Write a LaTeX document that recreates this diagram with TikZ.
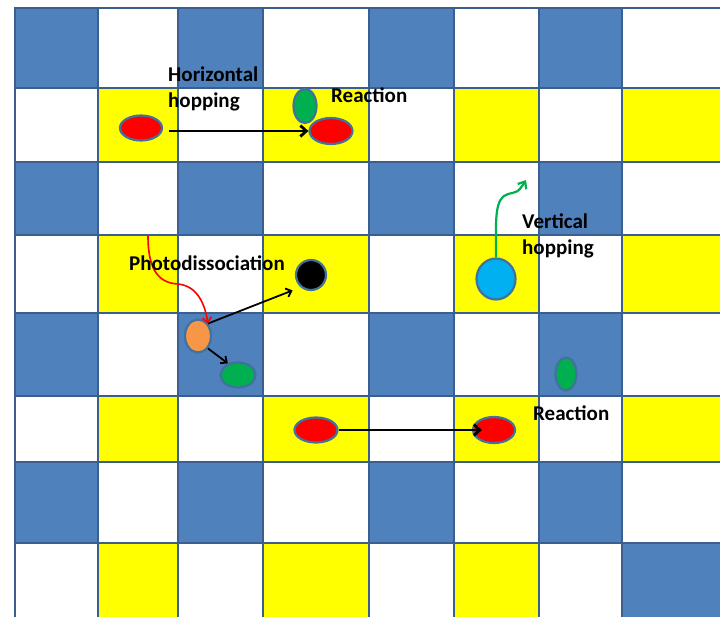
\documentclass[tikz,border=0pt]{standalone}
\usepackage{fontspec}
\setmainfont{Carlito}
\usetikzlibrary{shapes.geometric,arrows.meta}
\definecolor{cellfill0}{HTML}{FFFFFF}
\definecolor{cellfill1}{HTML}{4F81BD}
\definecolor{cellfill2}{HTML}{FFFF00}
\definecolor{gridline}{HTML}{3A5F8E}
\definecolor{edge}{HTML}{41719C}
\definecolor{molred}{HTML}{FF0000}
\definecolor{molgreen}{HTML}{00B050}
\definecolor{molorange}{HTML}{F79646}
\definecolor{molcyan}{HTML}{00B0F0}
\begin{document}
\begin{tikzpicture}[x=1pt,y=-1pt,
 cellbox/.style={draw=gridline, line width=2.6pt},
 mol/.style={ellipse, draw=edge, line width=2.2pt, inner sep=0pt},
 lbl/.style={font=\bfseries\fontsize{21}{26}\selectfont, inner sep=0pt, align=left, anchor=base west},
 arr/.style={black, line width=2.8pt, -{Straight Barb[length=6pt,width=11pt]}},
 thinarr/.style={black, line width=1.8pt, -{Straight Barb[length=5pt,width=9pt]}},
]
\useasboundingbox (0,0) rectangle (720,616);
\begin{scope}
\clip (0,0) rectangle (720,616);
\foreach \r in {0,...,7}{
 \foreach \c in {0,...,7}{
  \pgfmathsetmacro\xa{{15,98,178,263,369,454,539,622,725}[\c]}
  \pgfmathsetmacro\xb{{15,98,178,263,369,454,539,622,725}[\c+1]}
  \pgfmathsetmacro\ya{{8,88,162,235,313,396,462,543,625}[\r]}
  \pgfmathsetmacro\yb{{8,88,162,235,313,396,462,543,625}[\r+1]}
  \pgfmathtruncatemacro\kind{(1-mod(\r,2))*(1-mod(\c,2)) + 2*mod(\r,2)*mod(\c,2)}
  \ifnum\r=7 \ifnum\c=7 \def\kind{1}\fi\fi
  \path[cellbox, fill=cellfill\kind] (\xa,\ya) rectangle (\xb,\yb);
 }
}
\end{scope}
% molecules
\node[mol, fill=molred, minimum width=42pt, minimum height=25pt] (r1) at (141,128) {};
\node[mol, fill=molgreen, minimum width=23pt, minimum height=34pt] (g1) at (305,106) {};
\node[mol, fill=molred, minimum width=43pt, minimum height=26pt] (r2) at (331,131) {};
\node[mol, fill=black, minimum width=30pt, minimum height=30pt] (bc) at (311,275) {};
\node[mol, fill=molorange, minimum width=26pt, minimum height=33pt] (or) at (198,336) {};
\node[mol, fill=molgreen, minimum width=35pt, minimum height=25pt] (g2) at (238,375) {};
\node[mol, fill=molcyan, minimum width=39pt, minimum height=41pt] (bl) at (496,279) {};
\node[mol, fill=molgreen, minimum width=21pt, minimum height=33pt] (g3) at (566,374) {};
\node[mol, fill=molred, minimum width=43pt, minimum height=25pt] (r3) at (316,430) {};
\node[mol, fill=molred, minimum width=42pt, minimum height=26pt] (r4) at (494,430) {};
% arrows
\draw[arr] ([xshift=6pt,yshift=-3pt]r1.east) -- (r2.west);
\draw[arr] (r3.east) -- ([xshift=10pt]r4.west);
\draw[thinarr] (or.north east) -- ([shift={(-7pt,-4pt)}]bc.south west);
\draw[thinarr] (or.south east) -- ([shift={(3pt,2pt)}]g2.north west);
\coordinate (rs) at (148,236);
\draw[molred, line width=1.6pt, -{Straight Barb[length=5pt,width=9pt]}] (rs) .. controls (148,272) and (160,283) .. (178,284) .. controls (198,286) and (205,305) .. (or.north east);
\coordinate (gt) at (526,180);
\draw[molgreen, line width=2.2pt, -{Straight Barb[length=6pt,width=10pt]}] (bl.north) .. controls (496,220) and (494,198) .. (508,194) .. controls (516,192) and (518,193) .. (gt);
% labels
\node[lbl] (hh) at (168,107) {Horizontal\\hopping};
\node[lbl] (rx1) at (331,102) {Reaction};
\node[lbl] (pd) at (129,270) {Photodissociation};
\node[lbl] (vh) at (522,254) {Vertical\\hopping};
\node[lbl] (rx2) at (533,420) {Reaction};
\end{tikzpicture}
\end{document}
